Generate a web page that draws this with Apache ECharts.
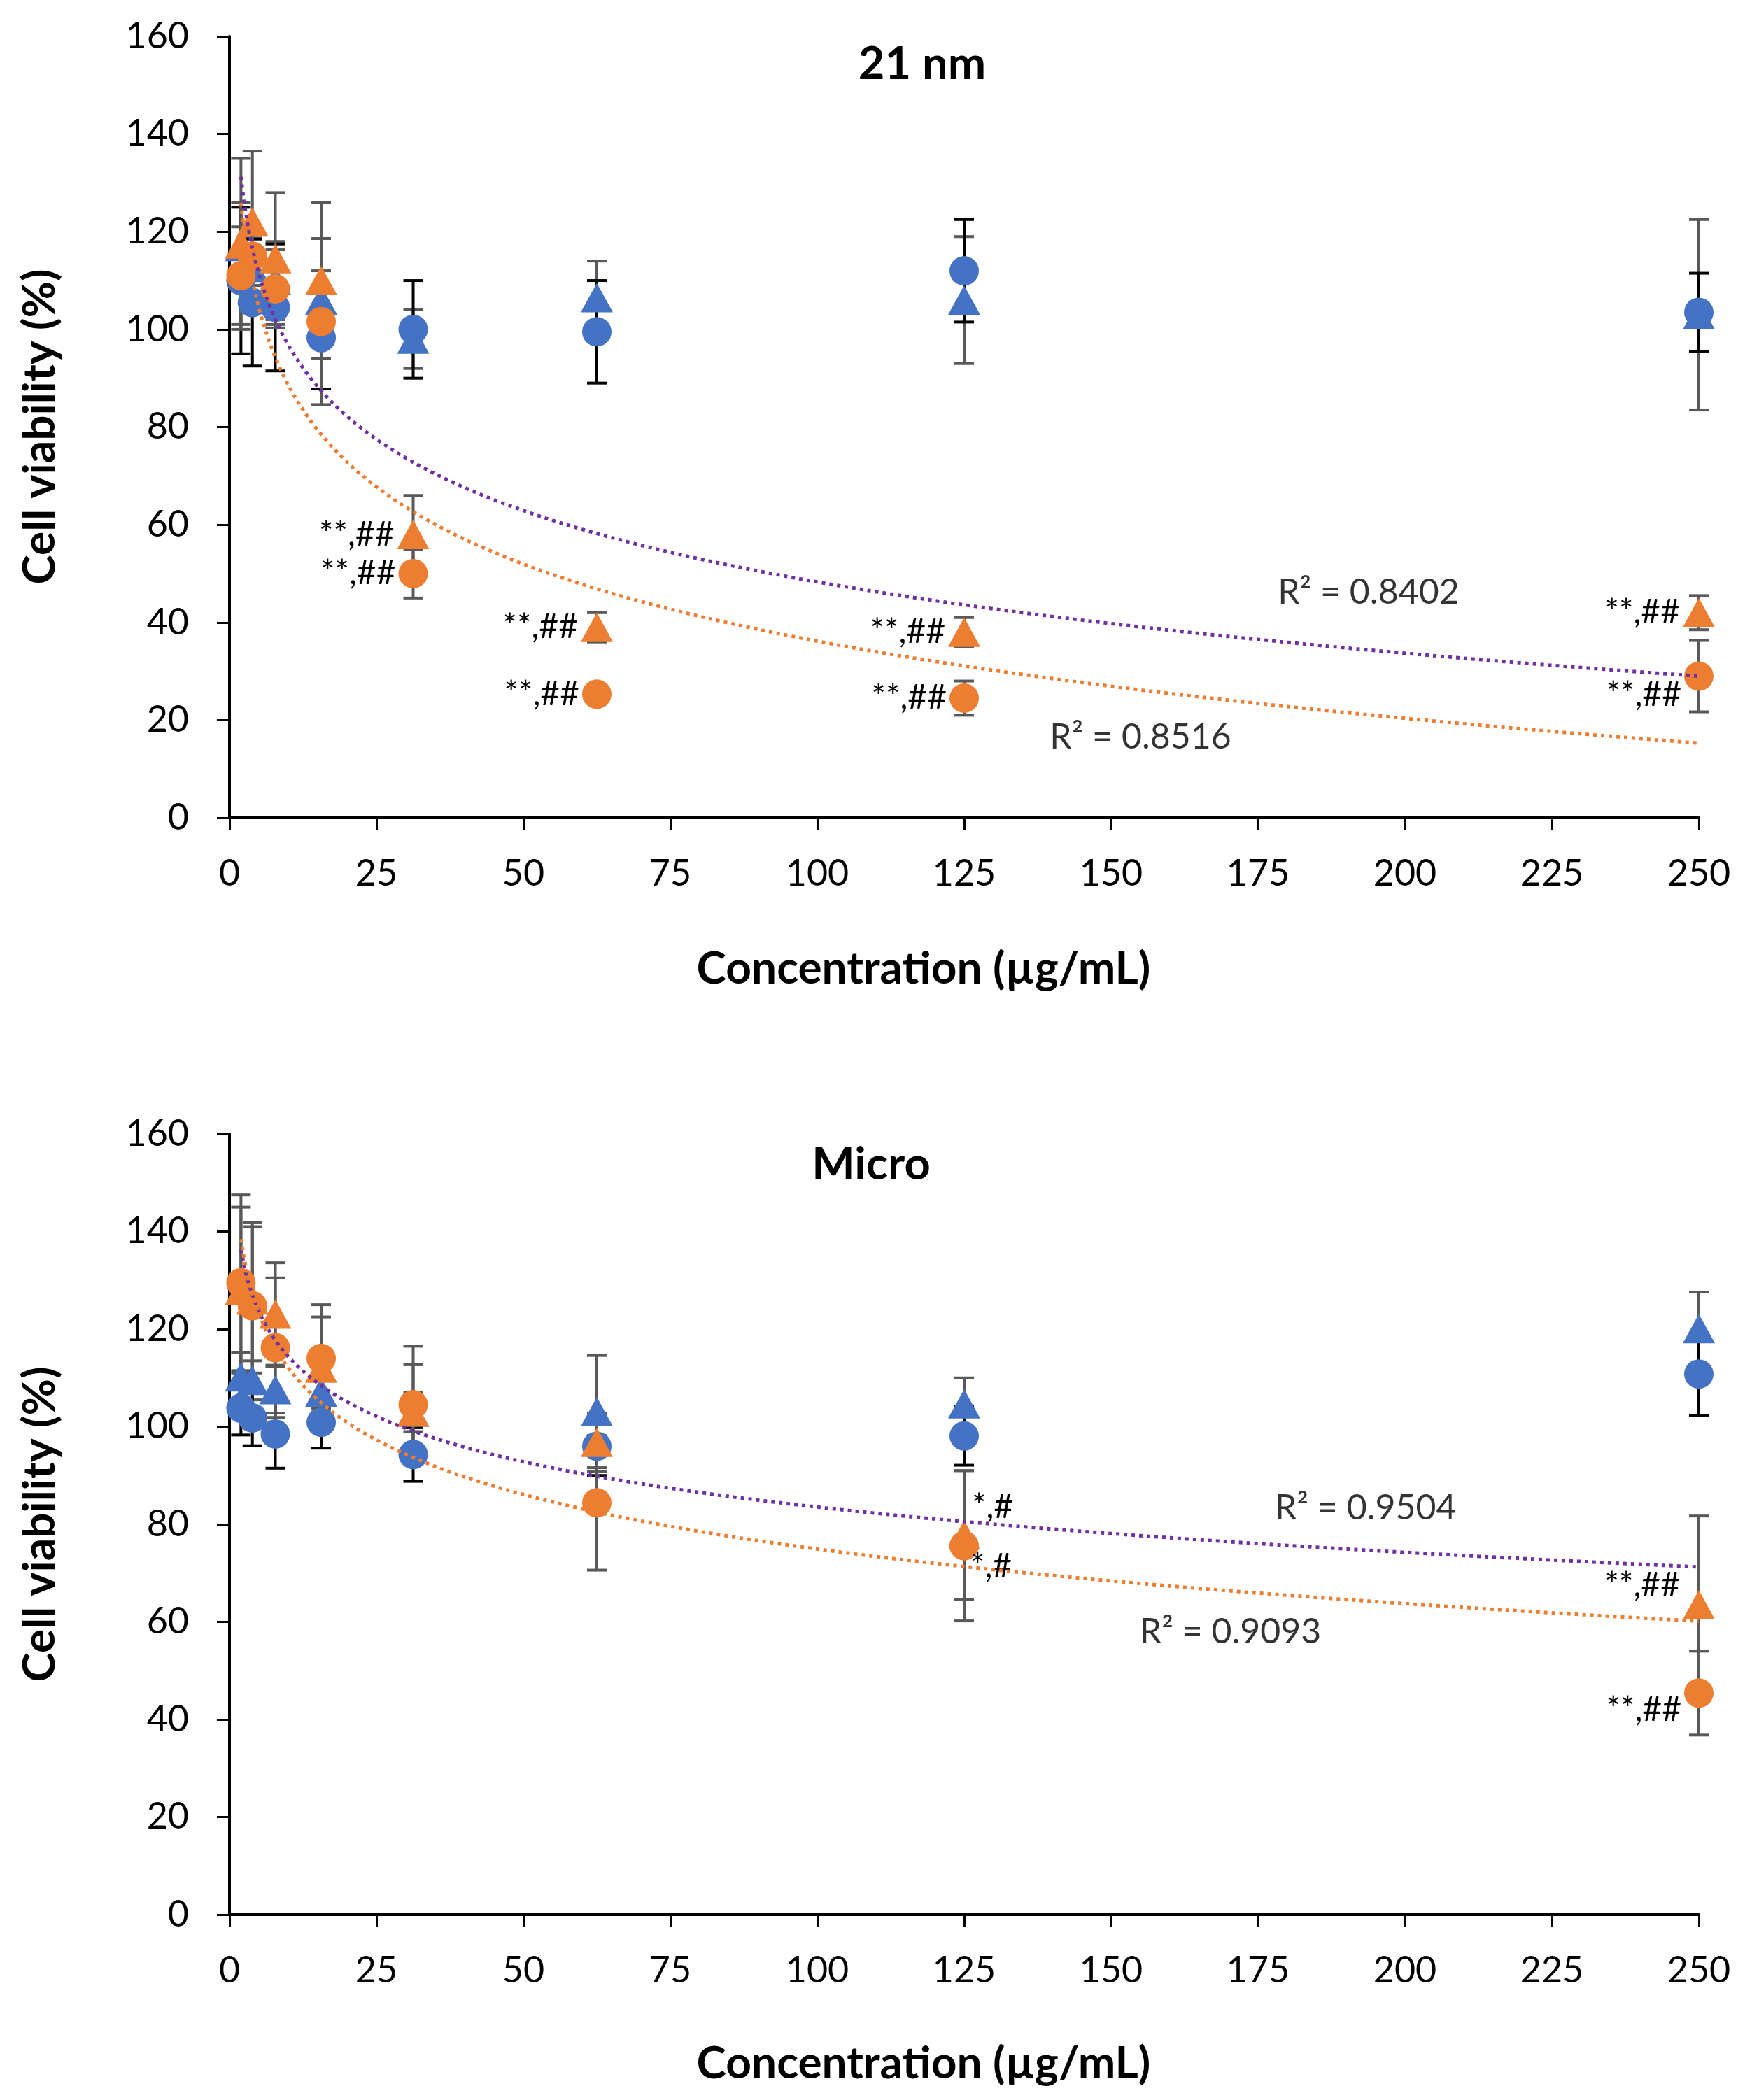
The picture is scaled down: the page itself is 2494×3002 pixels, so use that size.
<!DOCTYPE html>
<html>
<head>
<meta charset="utf-8">
<script src="https://cdn.jsdelivr.net/npm/echarts@6/dist/echarts.min.js"></script>
<style>
  html, body { margin: 0; padding: 0; background: #fff; }
  #chart { width: 2494px; height: 3002px; }
</style>
</head>
<body>
<div id="chart"></div>
<script>
// concentrations (µg/mL)
const conc = [1.95, 3.9, 7.8, 15.6, 31.25, 62.5, 125, 250];

// 21 nm panel
const nmBlueCircle = [110, 105.5, 104.5, 98.3, 100, 99.5, 112, 103.5];
const nmBlueCircleErr = [15, 13, 13, 10.5, 10, 10.5, 10.5, 8];
const nmBlueTri = [117, 112.7, 110, 106, 98, 106.5, 106, 103];
const nmBlueTriErr = [9, 6, 8, 6, 6, 7.5, 13, 19.5];
const nmOrangeCircle = [111, 115, 108.3, 101.6, 50, 25.3, 24.5, 29];
const nmOrangeCircleErr = [10, 6, 8, 17, 5, 1, 3.5, 7.3];
const nmOrangeTri = [117.5, 122, 114.5, 110, 58, 39, 38, 42];
const nmOrangeTriErr = [17.5, 14.5, 13.5, 16, 8, 3, 3, 3.5];
const nmCircleSig = ['', '', '', '', '**,##', '**,##', '**,##', '**,##'];
const nmTriSig = ['', '', '', '', '**,##', '**,##', '**,##', '**,##'];
const nmR2 = ['R² = 0.8402', 'R² = 0.8516'];

// Micro panel
const miBlueCircle = [103.8, 101.8, 98.5, 100.9, 94.3, 96, 98.1, 110.8];
const miBlueCircleErr = [5.5, 5.7, 7, 5.3, 5.5, 6, 6, 8.5];
const miBlueTri = [110.2, 109.5, 107.6, 107.1, 103, 103.1, 104.7, 120.1];
const miBlueTriErr = [5, 4, 4.8, 3.3, 4, 11.5, 5.3, 7.5];
const miOrangeCircle = [129.5, 124.8, 116.2, 114, 104.5, 84.4, 75.6, 45.4];
const miOrangeCircleErr = [18, 17, 14.3, 11, 12, 13.8, 15.4, 8.6];
const miOrangeTri = [128, 126, 123.1, 112, 103, 96.8, 77.8, 63.5];
const miOrangeTriErr = [17, 15, 10.5, 10.5, 9.7, 6, 13.2, 18.2];
const miCircleSig = ['', '', '', '', '', '', '*,#', '**,##'];
const miTriSig = ['', '', '', '', '', '', '*,#', '**,##'];
const miR2 = ['R² = 0.9504', 'R² = 0.9093'];

const BLUE = '#4472C4';
const ORANGE = '#ED7D31';
const PURPLE = '#7030A0';
const FONT = 'Lato';

// excel style logarithmic trendline y = a*ln(x) + b
function logTrend(xs, ys) {
  let n = xs.length, sx = 0, sy = 0, sxx = 0, sxy = 0;
  xs.forEach((x, i) => {
    let l = Math.log(x);
    sx += l; sy += ys[i]; sxx += l * l; sxy += l * ys[i];
  });
  let a = (n * sxy - sx * sy) / (n * sxx - sx * sx);
  let b = (sy - a * sx) / n;
  let pts = [];
  let xEnd = xs[xs.length - 1];
  for (let x = xs[0]; x < xEnd; x += 0.5) pts.push([x, a * Math.log(x) + b]);
  pts.push([xEnd, a * Math.log(xEnd) + b]);
  return pts;
}

function errRender(color) {
  return function (params, api) {
    let x = api.value(0), y = api.value(1), e = api.value(2);
    let hi = api.coord([x, y + e]);
    let lo = api.coord([x, y - e]);
    let cw = 14;
    let st = { stroke: color, lineWidth: 4 };
    return {
      type: 'group',
      children: [
        { type: 'line', shape: { x1: hi[0], y1: hi[1], x2: lo[0], y2: lo[1] }, style: st },
        { type: 'line', shape: { x1: hi[0] - cw, y1: hi[1], x2: hi[0] + cw, y2: hi[1] }, style: st },
        { type: 'line', shape: { x1: lo[0] - cw, y1: lo[1], x2: lo[0] + cw, y2: lo[1] }, style: st }
      ]
    };
  };
}

function errSeries(idx, vals, errs, color) {
  return {
    type: 'custom',
    xAxisIndex: idx, yAxisIndex: idx,
    renderItem: errRender(color),
    encode: { x: 0, y: 1 },
    data: conc.map((c, i) => [c, vals[i], errs[i]]),
    z: 2,
    silent: true
  };
}

// where the significance marks sit relative to their marker
const sigPlace = {
  'nm-circle-7': { position: 'left', offset: [0, 27] },
  'mi-tri-6': { position: 'right', offset: [-16, -40] },
  'mi-circle-6': { position: 'right', offset: [-16, 30] },
  'mi-tri-7': { position: 'left', offset: [0, -28] },
  'mi-circle-7': { position: 'left', offset: [0, 24] }
};

function markerSeries(idx, key, shape, vals, color, sig) {
  let isTri = shape === 'triangle';
  return {
    type: 'scatter',
    xAxisIndex: idx, yAxisIndex: idx,
    symbol: shape,
    symbolSize: isTri ? [46, 42] : 42,
    itemStyle: { color: color, opacity: 1 },
    z: 3,
    data: conc.map((c, i) => {
      let item = { value: [c, vals[i]] };
      if (sig && sig[i]) {
        let pl = sigPlace[key + '-' + i] || { position: 'left', offset: [0, 0] };
        item.label = {
          show: true,
          formatter: sig[i],
          position: pl.position,
          offset: pl.offset,
          distance: 4,
          fontFamily: FONT,
          fontSize: 48,
          color: '#000'
        };
      }
      return item;
    })
  };
}

function trendSeries(idx, xs, ys, color) {
  return {
    type: 'line',
    xAxisIndex: idx, yAxisIndex: idx,
    showSymbol: false,
    symbol: 'none',
    smooth: false,
    lineStyle: { color: color, width: 5, type: [5, 6] },
    data: logTrend(xs, ys),
    z: 4,
    silent: true
  };
}

function r2Series(idx, pos, texts) {
  return {
    type: 'scatter',
    xAxisIndex: idx, yAxisIndex: idx,
    symbolSize: 0,
    z: 5,
    data: pos.map((p, i) => ({
      value: p,
      label: {
        show: true,
        position: 'inside',
        formatter: texts[i],
        fontFamily: FONT,
        fontSize: 50,
        color: '#000'
      }
    }))
  };
}

function xAxisOpt(idx) {
  return {
    type: 'value', gridIndex: idx,
    min: 0, max: 250, interval: 25,
    splitLine: { show: false },
    axisLine: { show: true, lineStyle: { color: '#000', width: 4 } },
    axisTick: { show: true, inside: false, length: 18, lineStyle: { color: '#000', width: 3 } },
    axisLabel: { fontFamily: FONT, fontSize: 52, color: '#000', margin: 54 }
  };
}

function yAxisOpt(idx) {
  return {
    type: 'value', gridIndex: idx,
    min: 0, max: 160, interval: 20,
    splitLine: { show: false },
    axisLine: { show: true, lineStyle: { color: '#000', width: 4 } },
    axisTick: { show: true, inside: false, length: 18, lineStyle: { color: '#000', width: 3 } },
    axisLabel: { fontFamily: FONT, fontSize: 52, color: '#000', margin: 58 }
  };
}

function panelSeries(idx, key, d) {
  return [
    errSeries(idx, d.blueTri, d.blueTriErr, '#595959'),
    errSeries(idx, d.blueCircle, d.blueCircleErr, '#000'),
    errSeries(idx, d.orangeTri, d.orangeTriErr, '#595959'),
    errSeries(idx, d.orangeCircle, d.orangeCircleErr, '#595959'),
    markerSeries(idx, key + '-tri', 'triangle', d.blueTri, BLUE, null),
    markerSeries(idx, key + '-circle', 'circle', d.blueCircle, BLUE, null),
    markerSeries(idx, key + '-tri', 'triangle', d.orangeTri, ORANGE, d.triSig),
    markerSeries(idx, key + '-circle', 'circle', d.orangeCircle, ORANGE, d.circleSig),
    trendSeries(idx, conc, d.orangeTri, PURPLE),
    trendSeries(idx, conc, d.orangeCircle, ORANGE),
    r2Series(idx, d.r2Pos, d.r2)
  ];
}

const chart = echarts.init(document.getElementById('chart'), null, { renderer: 'canvas' });

const titleFont = 'bold 64px ' + FONT;
const option = {
  backgroundColor: '#fff',
  animation: false,
  grid: [
    { left: 328, top: 52, width: 2100, height: 1117 },
    { left: 328, top: 1621, width: 2100, height: 1116 }
  ],
  xAxis: [xAxisOpt(0), xAxisOpt(1)],
  yAxis: [yAxisOpt(0), yAxisOpt(1)],
  series: [].concat(
    panelSeries(0, 'nm', {
      blueTri: nmBlueTri, blueTriErr: nmBlueTriErr,
      blueCircle: nmBlueCircle, blueCircleErr: nmBlueCircleErr,
      orangeTri: nmOrangeTri, orangeTriErr: nmOrangeTriErr,
      orangeCircle: nmOrangeCircle, orangeCircleErr: nmOrangeCircleErr,
      triSig: nmTriSig, circleSig: nmCircleSig,
      r2: nmR2, r2Pos: [[193.8, 46.1], [155, 16.5]]
    }),
    panelSeries(1, 'mi', {
      blueTri: miBlueTri, blueTriErr: miBlueTriErr,
      blueCircle: miBlueCircle, blueCircleErr: miBlueCircleErr,
      orangeTri: miOrangeTri, orangeTriErr: miOrangeTriErr,
      orangeCircle: miOrangeCircle, orangeCircleErr: miOrangeCircleErr,
      triSig: miTriSig, circleSig: miCircleSig,
      r2: miR2, r2Pos: [[193.3, 83.3], [170.3, 58]]
    })
  ),
  graphic: [
    { type: 'text', x: 1318, y: 92, style: { text: '21 nm', font: 'bold 65px ' + FONT, fill: '#000', textAlign: 'center', textVerticalAlign: 'middle' } },
    { type: 'text', x: 1245, y: 1665, style: { text: 'Micro', font: 'bold 65px ' + FONT, fill: '#000', textAlign: 'center', textVerticalAlign: 'middle' } },
    { type: 'text', x: 57, y: 610, rotation: Math.PI / 2, style: { text: 'Cell viability (%)', font: titleFont, fill: '#000', textAlign: 'center', textVerticalAlign: 'middle' } },
    { type: 'text', x: 57, y: 2179, rotation: Math.PI / 2, style: { text: 'Cell viability (%)', font: titleFont, fill: '#000', textAlign: 'center', textVerticalAlign: 'middle' } },
    { type: 'text', x: 1320, y: 1385, style: { text: 'Concentration (µg/mL)', font: titleFont, fill: '#000', textAlign: 'center', textVerticalAlign: 'middle' } },
    { type: 'text', x: 1320, y: 2950, style: { text: 'Concentration (µg/mL)', font: titleFont, fill: '#000', textAlign: 'center', textVerticalAlign: 'middle' } }
  ]
};

chart.setOption(option);
</script>
</body>
</html>
